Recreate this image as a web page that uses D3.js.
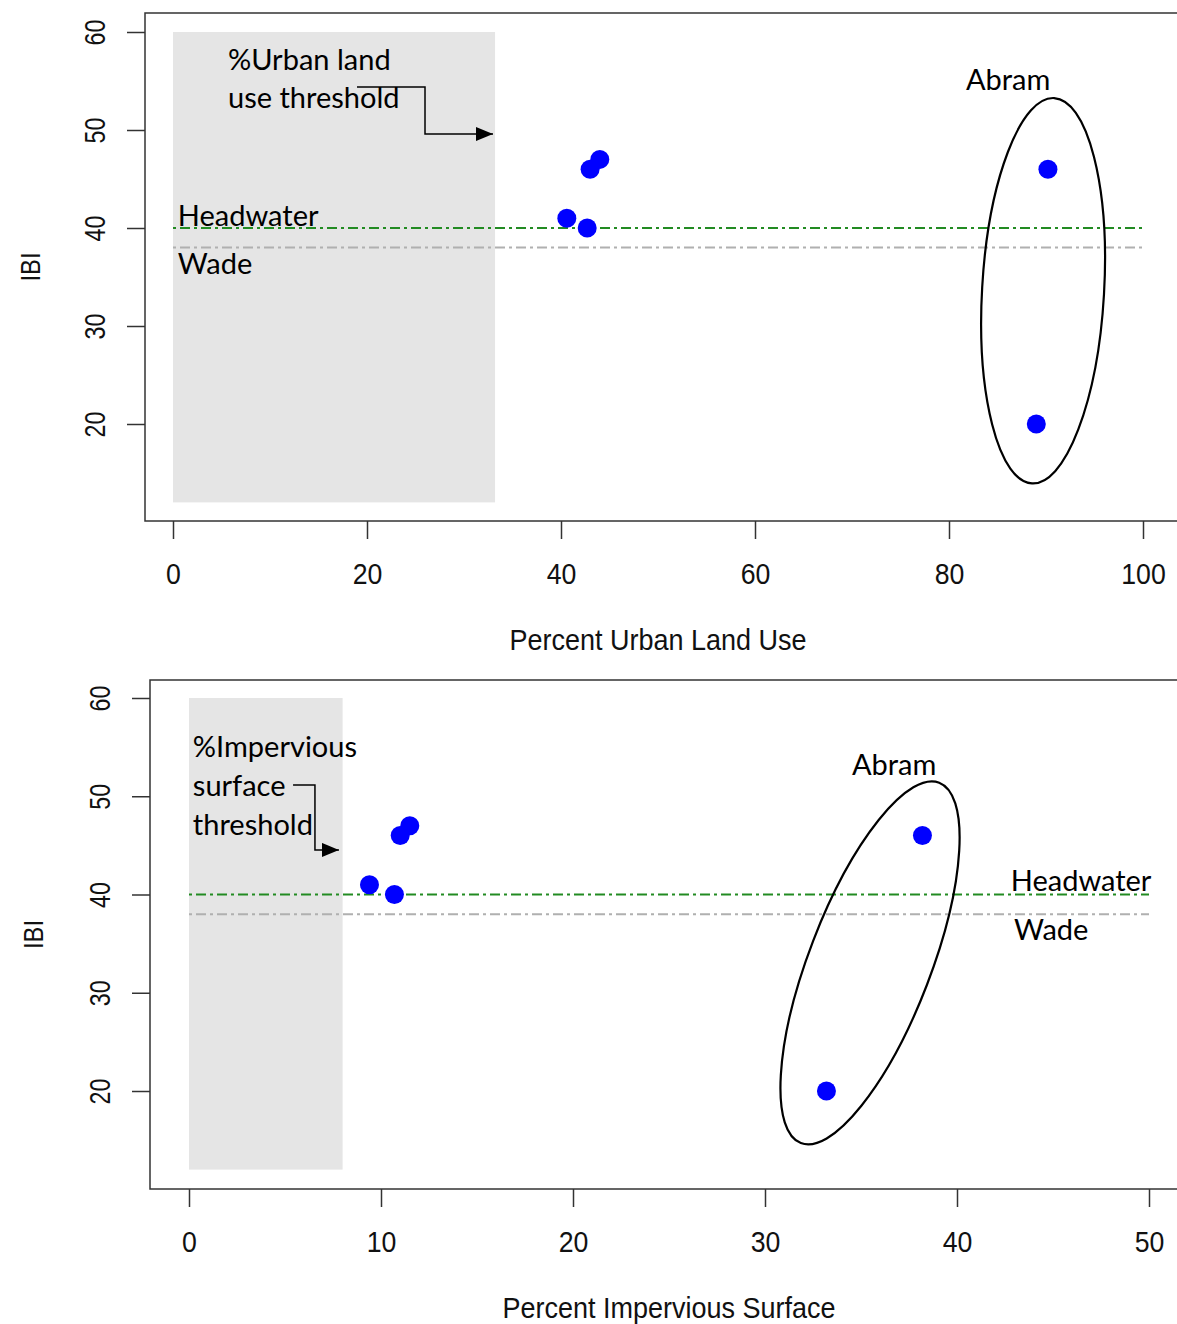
<!DOCTYPE html>
<html>
<head>
<meta charset="utf-8">
<script src="https://cdn.jsdelivr.net/npm/d3@7"></script>
<style>
  body { margin: 0; background: #fff; }
  svg { display: block; }
</style>
</head>
<body>
<script>
// IBI scores against the two land-use measures
const urbanPct = [40.6, 42.7, 43.0, 44.0, 90.2, 89.0]
const urbanIBI = [41, 40, 46, 47, 46, 20]
const imperviousPct = [9.4, 10.7, 11.0, 11.5, 38.2, 33.2]
const imperviousIBI = [41, 40, 46, 47, 46, 20]

const yTicks = [20, 30, 40, 50, 60]
const urbanTicks = [0, 20, 40, 60, 80, 100]
const imperviousTicks = [0, 10, 20, 30, 40, 50]

// reference lines
const headwaterIBI = 40
const wadeIBI = 38
// shaded threshold zones: [x0, x1] and IBI [low, high]
const urbanThreshold = [0, 33.2]
const imperviousThreshold = [0, 8]
const zoneIBI = [12, 60]

const W = 1177, H = 1324
const svg = d3.select('body').append('svg')
  .attr('width', W)
  .attr('height', H)

const annoFont = 'Lato, "Open Sans", sans-serif'
const axisFont = '"Liberation Sans", Arial, sans-serif'

const panels = [
  {
    xs: urbanPct, ys: urbanIBI, xTicks: urbanTicks, zone: urbanThreshold,
    xTitle: 'Percent Urban Land Use',
    box: { left: 145, top: 13, right: 1200, bottom: 521 },
    xRange: [173, 1143], yRange: [424, 32], xMax: 100,
    lines: [['%Urban land', 5.67, 56.1], ['use threshold', 5.67, 52.2]],
    arrow: [[18.97, 54.39], [25.98, 54.39], [25.98, 49.59], [32.99, 49.59]],
    labels: [['Headwater', 0.5, 40.25], ['Wade', 0.5, 35.3], ['Abram', 81.75, 54.1]],
    ellipse: { cx: 89.7, cy: 33.6, rx: 61, ry: 193, rot: 3.3 },
    yLabelOff: 50, yTitleOff: 115
  },
  {
    xs: imperviousPct, ys: imperviousIBI, xTicks: imperviousTicks, zone: imperviousThreshold,
    xTitle: 'Percent Impervious Surface',
    box: { left: 150, top: 680, right: 1200, bottom: 1189 },
    xRange: [189, 1149], yRange: [1091, 698], xMax: 50,
    lines: [['%Impervious', 0.2, 54.0], ['surface', 0.2, 50.0], ['threshold', 0.2, 46.06]],
    arrow: [[5.42, 51.15], [6.56, 51.15], [6.56, 44.54], [7.81, 44.54]],
    labels: [['Headwater', 42.8, 40.37], ['Wade', 42.97, 35.4], ['Abram', 34.53, 52.17]],
    ellipse: { cx: 35.47, cy: 33.04, rx: 61, ry: 193, rot: 21 },
    yLabelOff: 50, yTitleOff: 117
  }
]

svg.append('defs').append('marker')
  .attr('id', 'head')
  .attr('viewBox', '0 0 17 14')
  .attr('refX', 17).attr('refY', 7)
  .attr('markerWidth', 17).attr('markerHeight', 14)
  .attr('markerUnits', 'userSpaceOnUse')
  .attr('orient', 'auto')
  .append('path')
    .attr('d', 'M0,0 L17,7 L0,14 Z')
    .attr('fill', '#000')

panels.forEach(p => {
  const x = d3.scaleLinear().domain([0, p.xMax]).range(p.xRange)
  const y = d3.scaleLinear().domain([20, 60]).range(p.yRange)
  const g = svg.append('g')

  // threshold zone
  g.append('rect')
    .attr('x', x(p.zone[0]))
    .attr('y', y(zoneIBI[1]))
    .attr('width', x(p.zone[1]) - x(p.zone[0]))
    .attr('height', y(zoneIBI[0]) - y(zoneIBI[1]))
    .attr('fill', '#e5e5e5')

  // reference lines
  g.append('line')
    .attr('x1', x(0)).attr('x2', x(p.xMax))
    .attr('y1', y(headwaterIBI)).attr('y2', y(headwaterIBI))
    .attr('stroke', '#228b22').attr('stroke-width', 2)
    .attr('stroke-dasharray', '3,4,10,4')
  g.append('line')
    .attr('x1', x(0)).attr('x2', x(p.xMax))
    .attr('y1', y(wadeIBI)).attr('y2', y(wadeIBI))
    .attr('stroke', '#b0b0b0').attr('stroke-width', 2)
    .attr('stroke-dasharray', '3,4,10,4')

  // plot box
  g.append('rect')
    .attr('x', p.box.left).attr('y', p.box.top)
    .attr('width', p.box.right - p.box.left)
    .attr('height', p.box.bottom - p.box.top)
    .attr('fill', 'none').attr('stroke', '#333').attr('stroke-width', 1.5)

  // x axis
  const xa = g.append('g')
    .attr('transform', `translate(0, ${p.box.bottom})`)
    .call(d3.axisBottom(x).tickValues(p.xTicks).tickSize(18).tickSizeOuter(0))
  xa.select('.domain').remove()
  xa.selectAll('line').attr('stroke', '#333').attr('stroke-width', 1.5)
  xa.selectAll('text')
    .attr('y', 0).attr('dy', 0)
    .attr('transform', 'translate(0, 63) scale(0.92, 1)')
    .attr('font-family', axisFont).attr('font-size', 29).attr('fill', '#111')

  // y axis
  const ya = g.append('g')
    .attr('transform', `translate(${p.box.left}, 0)`)
    .call(d3.axisLeft(y).tickValues(yTicks).tickSize(18).tickSizeOuter(0))
  ya.select('.domain').remove()
  ya.selectAll('line').attr('stroke', '#333').attr('stroke-width', 1.5)
  ya.selectAll('text')
    .attr('x', 0).attr('dy', '0.35em')
    .attr('text-anchor', 'middle')
    .attr('transform', `translate(${-p.yLabelOff}, 0) rotate(-90) scale(0.8, 1)`)
    .attr('font-family', axisFont).attr('font-size', 29).attr('fill', '#111')

  // axis titles
  g.append('text')
    .attr('transform', `translate(${(p.xRange[0] + p.xRange[1]) / 2}, ${p.box.bottom + 129}) scale(0.9, 1)`)
    .attr('text-anchor', 'middle')
    .attr('font-family', axisFont).attr('font-size', 30).attr('fill', '#111')
    .text(p.xTitle)
  g.append('text')
    .attr('transform', `translate(${p.box.left - p.yTitleOff}, ${(p.box.top + p.box.bottom) / 2}) rotate(-90) scale(0.85, 1)`)
    .attr('text-anchor', 'middle').attr('dy', '0.35em')
    .attr('font-family', axisFont).attr('font-size', 28).attr('fill', '#111')
    .text('IBI')

  // points
  g.selectAll('.pt')
    .data(p.xs.map((v, i) => [v, p.ys[i]]))
    .enter().append('circle')
    .attr('class', 'pt')
    .attr('cx', d => x(d[0]))
    .attr('cy', d => y(d[1]))
    .attr('r', 9.5)
    .attr('fill', '#0000ff')

  // Abram ellipse
  const e = p.ellipse
  g.append('ellipse')
    .attr('transform', `translate(${x(e.cx)}, ${y(e.cy)}) rotate(${e.rot})`)
    .attr('rx', e.rx).attr('ry', e.ry)
    .attr('fill', 'none').attr('stroke', '#000').attr('stroke-width', 2.2)

  // annotations
  g.selectAll('.note')
    .data(p.lines.concat(p.labels))
    .enter().append('text')
    .attr('x', d => x(d[1]))
    .attr('y', d => y(d[2]))
    .attr('font-family', annoFont).attr('font-size', 29).attr('fill', '#000')
    .text(d => d[0])

  g.append('path')
    .attr('d', d3.line().x(d => x(d[0])).y(d => y(d[1]))(p.arrow))
    .attr('fill', 'none').attr('stroke', '#000').attr('stroke-width', 1.5)
    .attr('marker-end', 'url(#head)')
})
</script>
</body>
</html>
